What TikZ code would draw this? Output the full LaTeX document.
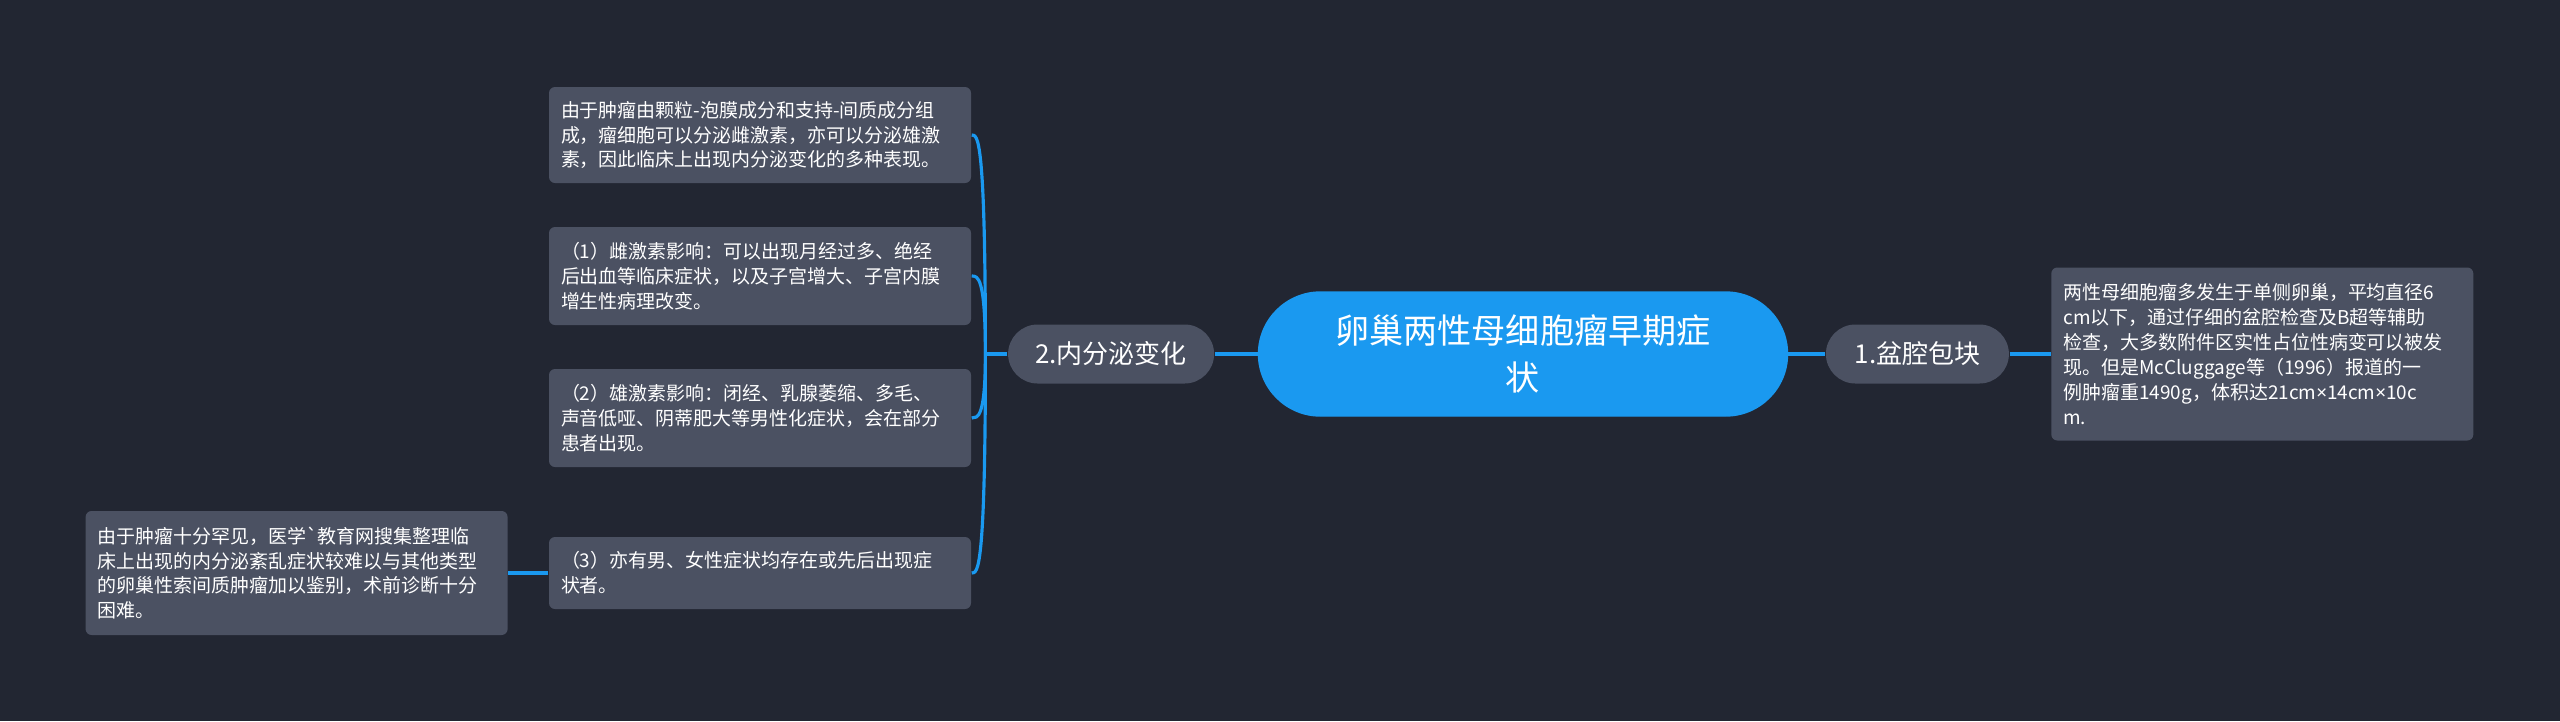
\documentclass[tikz,border=0pt]{standalone}
\usepackage{fontspec}
\setmainfont{Noto Sans CJK SC}
\newfontfamily\rawfont{Noto Sans CJK SC}
\newfontfamily\latinfont{Noto Sans}
\usepackage{tikz}
\usetikzlibrary{positioning,calc}
\definecolor{canvas}{HTML}{222632}
\definecolor{slate}{HTML}{4B5162}
\definecolor{azure}{HTML}{1A99F0}
\newcommand{\bytimes}{{\latinfont ×}}
\tikzset{
  rootbox/.style={
    rectangle, rounded corners=0.62cm, fill=azure, draw=azure,
    minimum width=5.29cm, minimum height=1.24cm,
    text=white, font=\fontsize{9.7pt}{13.3pt}\selectfont,
    align=center, inner sep=0pt
  },
  topicbox/.style={
    rectangle, rounded corners=0.295cm, fill=slate,
    minimum width=#1, minimum height=0.59cm,
    text=white, font=\fontsize{7.4pt}{9pt}\selectfont,
    inner sep=0pt
  },
  topicbox/.default=1.83cm,
  notebox/.style={
    rectangle, rounded corners=0.06cm, fill=slate,
    text width=3.98cm, minimum height=#1,
    text=white, font=\fontsize{5.4pt}{7.1pt}\selectfont,
    align=left, inner xsep=0.12cm, inner ysep=0.08cm
  },
  notebox/.default=0.96cm,
  branch/.style={azure, line width=0.9pt}
}
\begin{document}
\begin{tikzpicture}

% canvas
\useasboundingbox (0,0) rectangle (25.6,-7.21);
\fill[canvas] (0,0) rectangle (25.6,-7.21);

% root and main topics
\node[rootbox] (root) at (15.23,-3.54) {卵巢两性母细胞瘤早期症\\状};
\node[topicbox=1.83cm, right=0.37cm of root] (pelvic) {1.盆腔包块};
\node[topicbox=2.06cm, left=0.43cm of root] (endo) {2.内分泌变化};

% right side note
\node[notebox=1.73cm, right=0.41cm of pelvic] (mass) {两性母细胞瘤多发生于单侧卵巢，平均直径6\\cm以下，通过仔细的盆腔检查及B超等辅助\\检查，大多数附件区实性占位性病变可以被发\\现。但是McCluggage等（1996）报道的一\\例肿瘤重1490g，体积达21cm\bytimes14cm\bytimes10c\\m.};

% left side notes
\node[notebox=0.96cm] (cause) at (7.60,-1.35) {由于肿瘤由颗粒-泡膜成分和支持-间质成分组\\成，瘤细胞可以分泌雌激素，亦可以分泌雄激\\素，因此临床上出现内分泌变化的多种表现。};
\node[notebox=0.98cm] (estro) at (7.60,-2.76) {（1）雌激素影响：可以出现月经过多、绝经\\后出血等临床症状，以及子宫增大、子宫内膜\\增生性病理改变。};
\node[notebox=0.98cm] (andro) at (7.60,-4.18) {（2）雄激素影响：闭经、乳腺萎缩、多毛、\\声音低哑、阴蒂肥大等男性化症状，会在部分\\患者出现。};
\node[notebox=0.72cm] (mixed) at (7.60,-5.73) {（3）亦有男、女性症状均存在或先后出现症\\状者。};
\node[notebox=1.24cm, left=0.40cm of mixed] (rare) {由于肿瘤十分罕见，医学{\rawfont `}教育网搜集整理临\\床上出现的内分泌紊乱症状较难以与其他类型\\的卵巢性索间质肿瘤加以鉴别，术前诊断十分\\困难。};

% connectors
\draw[branch] (root) -- (pelvic);
\draw[branch] (root) -- (endo);
\draw[branch] (pelvic) -- (mass);
\coordinate (fork) at ($(endo.west)+(-0.22,0)$);
\draw[branch] (endo.west) -- (fork);
\foreach \leaf in {cause,estro,andro,mixed}
  \draw[branch] (fork) .. controls (fork |- \leaf.east) and ($(\leaf.east)+(0.06,0)$) .. (\leaf.east);
\draw[branch] (mixed) -- (rare);

\end{tikzpicture}
\end{document}
